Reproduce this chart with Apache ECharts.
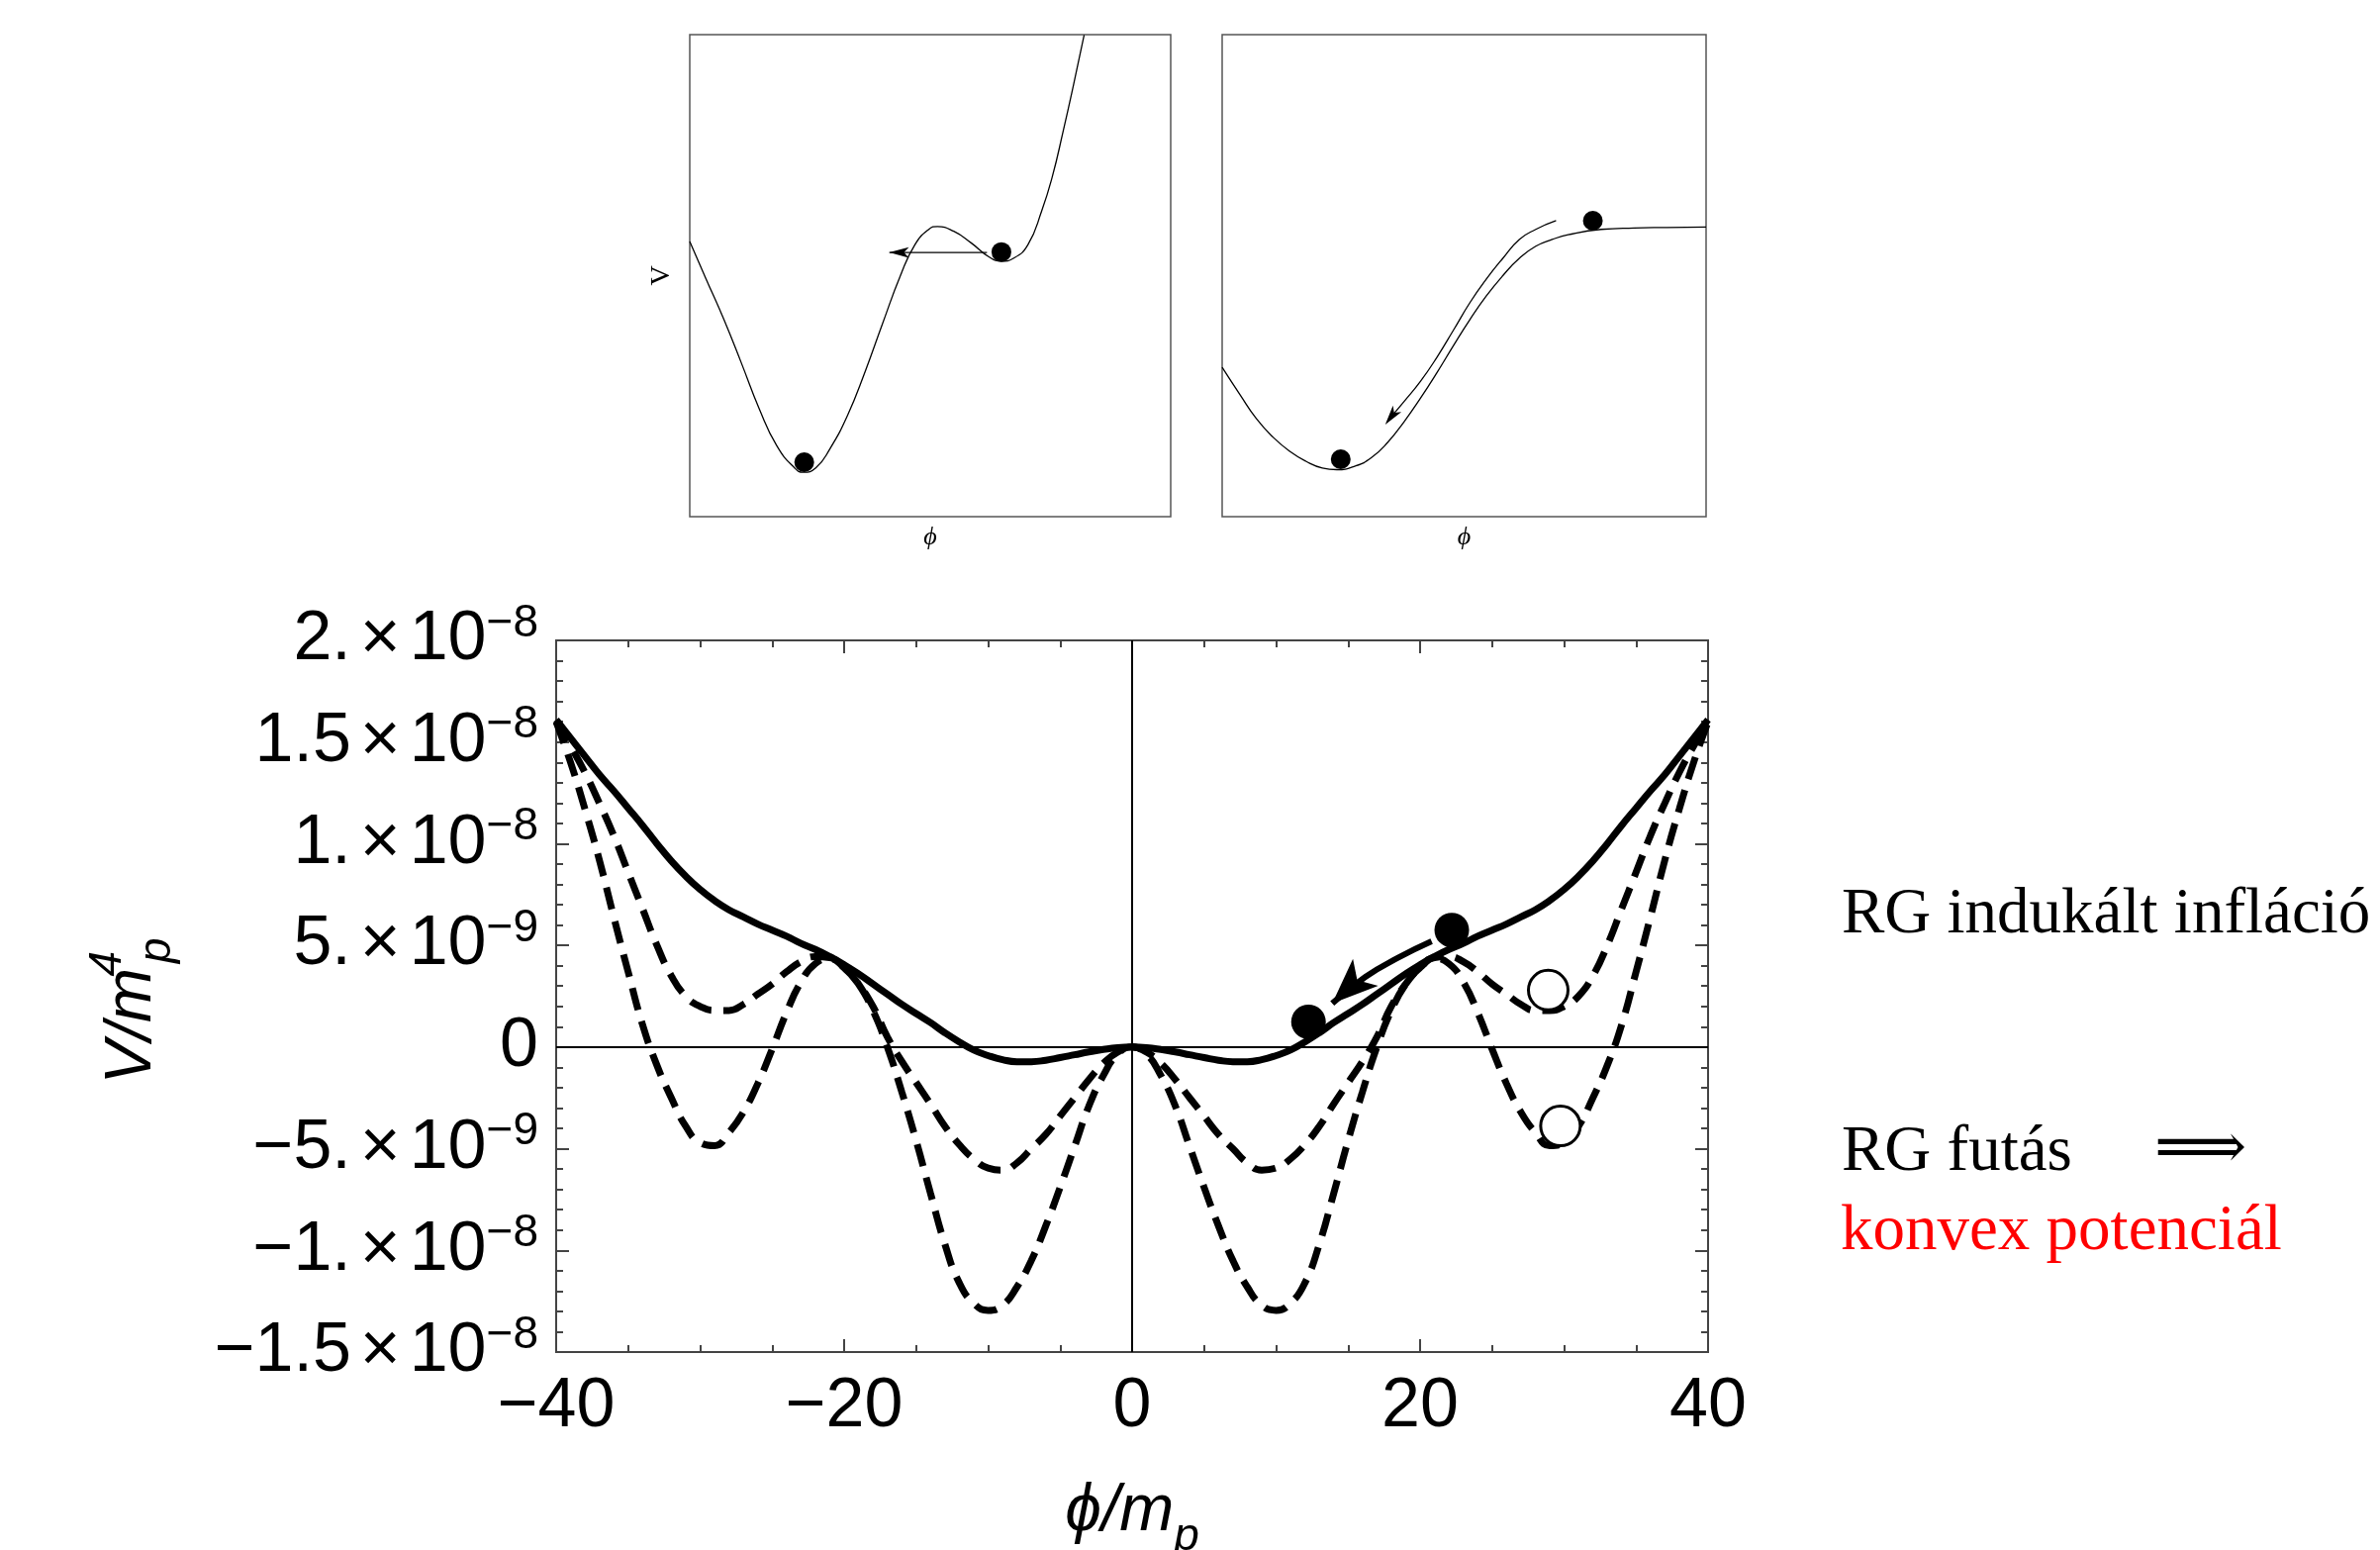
<!DOCTYPE html>
<html>
<head>
<meta charset="utf-8">
<script src="https://cdn.jsdelivr.net/npm/echarts@6.0.0/dist/echarts.min.js"></script>
<style>
html,body{margin:0;padding:0;background:#ffffff;}
#chart{width:2405px;height:1566px;}
</style>
</head>
<body>
<div id="chart"></div>
<script>
// ===== Main plot: V/m_p^4 (values in units of 1e-9) versus phi/m_p =====
const phi = [-40,-39,-38,-37,-36,-35,-34,-33,-32,-31,-30,-29,-28,-27,-26,-25,-24,-23,-22,-21,-20,
  -19,-18,-17,-16,-15,-14,-13,-12,-11,-10,-9,-8,-7,-6,-5,-4,-3,-2,-1,0,
  1,2,3,4,5,6,7,8,9,10,11,12,13,14,15,16,17,18,19,20,21,22,23,24,25,26,27,28,29,30,
  31,32,33,34,35,36,37,38,39,40];
const vSolid = [16.1,15.2,14.3,13.4,12.6,11.75,10.9,10.0,9.15,8.4,7.75,7.2,6.75,6.4,6.05,5.75,5.45,5.1,4.8,4.45,4.05,
  3.6,3.1,2.6,2.1,1.65,1.2,0.7,0.25,-0.15,-0.42,-0.62,-0.72,-0.72,-0.65,-0.52,-0.38,-0.24,-0.12,-0.03,0,
  -0.03,-0.12,-0.24,-0.38,-0.52,-0.65,-0.72,-0.72,-0.62,-0.42,-0.15,0.25,0.7,1.2,1.65,2.1,2.6,3.1,3.6,4.05,
  4.45,4.8,5.1,5.45,5.75,6.05,6.4,6.75,7.2,7.75,8.4,9.15,10.0,10.9,11.75,12.6,13.4,14.3,15.2,16.1];
const vDashShallow = [16.0,14.8,13.5,12.0,10.4,8.6,6.8,5.0,3.5,2.5,2.0,1.8,1.8,2.1,2.6,3.1,3.7,4.2,4.45,4.4,3.9,
  3.1,2.0,0.5,-0.7,-1.75,-2.8,-3.9,-4.8,-5.5,-5.95,-6.05,-5.7,-5.0,-4.3,-3.4,-2.5,-1.6,-0.8,-0.25,0,
  -0.25,-0.8,-1.6,-2.5,-3.4,-4.3,-5.0,-5.7,-6.05,-5.95,-5.5,-4.8,-3.9,-2.8,-1.75,-0.7,0.5,2.0,3.1,3.9,
  4.4,4.45,4.2,3.7,3.1,2.6,2.1,1.8,1.8,2.0,2.5,3.5,5.0,6.8,8.6,10.4,12.0,13.5,14.8,16.0];
const vDashDeep = [16.0,14.0,11.7,9.2,6.4,3.7,1.1,-0.9,-2.5,-3.9,-4.7,-4.85,-4.2,-3.2,-1.8,-0.1,1.7,3.2,4.1,4.35,3.9,
  3.1,1.8,0.0,-2.2,-4.6,-7.2,-9.7,-11.6,-12.6,-12.95,-12.7,-11.8,-10.5,-8.8,-6.9,-4.9,-2.9,-1.4,-0.35,0,
  -0.35,-1.4,-2.9,-4.9,-6.9,-8.8,-10.5,-11.8,-12.7,-12.95,-12.6,-11.6,-9.7,-7.2,-4.6,-2.2,0.0,1.8,3.1,3.9,
  4.35,4.1,3.2,1.7,-0.1,-1.8,-3.2,-4.2,-4.85,-4.7,-3.9,-2.5,-0.9,1.1,3.7,6.4,9.2,11.7,14.0,16.0];
const ballsFilled = [[22.2, 5.75], [12.25, 1.24]];
const ballsOpen = [[28.9, 2.8], [29.75, -3.88]];
const mainArrowLine = [[20.8, 5.2], [18.5, 4.4], [16.2, 3.45], [13.9, 2.15]];
const mainArrowHead = [[13.9, 2.15]];

const xTickLabels = ['\u221240', '\u221220', '0', '20', '40'];
const yTickMantissa = ['\u22121.5', '\u22121.', '\u22125.', '0', '5.', '1.', '1.5', '2.'];
const yTickExponent = ['\u22128', '\u22128', '\u22129', '', '\u22129', '\u22128', '\u22128', '\u22128'];

// ===== Inset 1 (first-order transition), arbitrary units 0..100 =====
const inset1X = [0,3.4,7.1,10.8,14.4,18.1,21.8,23.6,26.2,29.1,32.8,36.5,40.1,43.8,46.8,49.7,51.5,54.9,58.5,62.2,64.8,67.3,70.3,73.2,75.4,77.6,79.8,82.0];
const inset1Y = [57.1,49.3,40.9,31.7,22.5,14.7,10.1,9.2,10.1,14.0,21.0,30.2,40.1,50.0,56.4,59.6,60.2,59.2,56.8,53.9,53.0,53.6,56.4,63.5,70.6,79.8,89.6,99.9];
const inset1Balls = [[23.8, 11.3], [64.8, 54.9]];
const inset1ArrowLine = [[61.8, 54.8], [41.5, 54.8]];
const inset1ArrowHead = [[41.45, 54.8]];

// ===== Inset 2 (slow roll), arbitrary units 0..100 =====
const inset2X = [0,3.7,7.1,10.5,13.9,17.3,20.7,23.7,27.5,30.8,34.2,37.6,41.0,44.4,47.8,51.2,54.6,58.0,61.4,64.8,68.2,71.5,78.3,85.1,91.9,100];
const inset2Y = [31.0,25.3,20.3,16.5,13.6,11.5,10.1,9.75,10.5,12.2,15.4,19.7,24.6,29.9,35.5,40.9,45.8,50.0,53.6,56.1,57.5,58.5,59.6,59.9,60.0,60.1];
const inset2Balls = [[76.6, 61.4], [24.5, 11.9]];
const inset2ArrowX = [69.0,64.8,61.4,58.0,54.6,51.2,47.8,44.4,41.0,37.6,34.9];
const inset2ArrowY = [61.4,59.6,57.5,53.6,49.3,44.4,38.7,33.1,28.1,23.9,20.7];
const inset2ArrowHead = [[33.7, 19.1]];

// ===== Side notes =====
const noteTop = 'RG indukált infláció';
const noteMid = 'RG futás';
const noteArrow = '\u27F9';
const noteRed = 'konvex potenciál';

// ---------------------------------------------------------------
const sans = "'Liberation Sans', Arial, Helvetica, sans-serif";
const serif = "'Liberation Serif', 'Times New Roman', 'DejaVu Serif', serif";
const frameColor = '#444';
const zip = (xs, ys) => xs.map((x, i) => [x, ys[i]]);

const mainTick = { show: true, inside: true, length: 13, lineStyle: { color: frameColor, width: 2 } };
const xMinor = { show: true, splitNumber: 4, length: 7, lineStyle: { color: frameColor, width: 2 } };
const yMinor = { show: true, splitNumber: 5, length: 7, lineStyle: { color: frameColor, width: 2 } };

const xTitleRich = {
  i: { fontFamily: sans, fontStyle: 'italic', fontSize: 66, lineHeight: 96, color: '#000', verticalAlign: 'middle' },
  sub: { fontFamily: sans, fontStyle: 'italic', fontSize: 46, lineHeight: 46, color: '#000', verticalAlign: 'bottom' }
};
const yTitleRich = {
  i: { fontFamily: sans, fontStyle: 'italic', fontSize: 66, lineHeight: 96, color: '#000', verticalAlign: 'middle' },
  sup: { fontFamily: sans, fontStyle: 'italic', fontSize: 46, lineHeight: 46, width: 1, color: '#000', verticalAlign: 'top', align: 'left', padding: [0, 0, 0, 4] },
  sub: { fontFamily: sans, fontStyle: 'italic', fontSize: 46, lineHeight: 46, color: '#000', verticalAlign: 'bottom', padding: [0, 30, 0, 0] }
};

const hiddenAxis = {
  type: 'value', min: 0, max: 100,
  axisLine: { show: false, onZero: false }, axisTick: { show: false },
  axisLabel: { show: false }, splitLine: { show: false }
};

const option = {
  animation: false,
  backgroundColor: '#ffffff',
  grid: [
    { left: 562, top: 647, width: 1164, height: 719, show: true, borderColor: frameColor, borderWidth: 2, backgroundColor: 'transparent', outerBoundsMode: 'none', containLabel: false },
    { left: 697, top: 35, width: 486, height: 487, show: true, borderColor: '#555', borderWidth: 1.5, backgroundColor: 'transparent', outerBoundsMode: 'none', containLabel: false },
    { left: 1235, top: 35, width: 489, height: 487, show: true, borderColor: '#555', borderWidth: 1.5, backgroundColor: 'transparent', outerBoundsMode: 'none', containLabel: false }
  ],
  xAxis: [
    {
      gridIndex: 0, type: 'value', min: -40, max: 40, interval: 20, position: 'bottom',
      axisLine: { show: false, onZero: false }, axisTick: mainTick, minorTick: xMinor,
      splitLine: { show: false }, minorSplitLine: { show: false },
      axisLabel: { margin: 21, fontSize: 70, fontFamily: sans, color: '#000',
        formatter: v => xTickLabels[Math.round((v + 40) / 20)] },
      name: '{i|\u03D5/m}{sub|p}', nameLocation: 'middle', nameGap: 114,
      nameTextStyle: { rich: xTitleRich }
    },
    {
      gridIndex: 0, type: 'value', min: -40, max: 40, interval: 20, position: 'top',
      axisLine: { show: false, onZero: false }, axisTick: mainTick, minorTick: xMinor,
      splitLine: { show: false }, axisLabel: { show: false }
    },
    Object.assign({}, hiddenAxis, { gridIndex: 1, name: '\u03D5', nameLocation: 'middle', nameGap: 8,
      nameTextStyle: { fontFamily: serif, fontStyle: 'italic', fontSize: 26, color: '#000' } }),
    Object.assign({}, hiddenAxis, { gridIndex: 2, name: '\u03D5', nameLocation: 'middle', nameGap: 8,
      nameTextStyle: { fontFamily: serif, fontStyle: 'italic', fontSize: 26, color: '#000' } })
  ],
  yAxis: [
    {
      gridIndex: 0, type: 'value', min: -15, max: 20, interval: 5, position: 'left',
      axisLine: { show: false, onZero: false }, axisTick: mainTick, minorTick: yMinor,
      splitLine: { show: false }, minorSplitLine: { show: false },
      axisLabel: {
        margin: 18,
        formatter: v => {
          const k = Math.round((v + 15) / 5);
          const m = yTickMantissa[k], e = yTickExponent[k];
          return e ? '{m|' + m + '}{x|\u00D7}{m|10}{s|' + e + '}' : '{m|' + m + '}';
        },
        rich: {
          m: { fontFamily: sans, fontSize: 70, lineHeight: 80, color: '#000', verticalAlign: 'middle' },
          x: { fontFamily: sans, fontSize: 70, lineHeight: 80, color: '#000', verticalAlign: 'middle', padding: [0, 9, 0, 9] },
          s: { fontFamily: sans, fontSize: 46, lineHeight: 46, color: '#000', verticalAlign: 'top' }
        }
      },
      name: '{i|V/m}{sup|4}{sub|p}', nameLocation: 'middle', nameGap: 380, nameRotate: 90,
      nameTextStyle: { rich: yTitleRich }
    },
    {
      gridIndex: 0, type: 'value', min: -15, max: 20, interval: 5, position: 'right',
      axisLine: { show: false, onZero: false }, axisTick: mainTick, minorTick: yMinor,
      splitLine: { show: false }, axisLabel: { show: false }
    },
    Object.assign({}, hiddenAxis, { gridIndex: 1, name: 'V', nameLocation: 'middle', nameGap: 14, nameRotate: 90,
      nameTextStyle: { fontFamily: serif, fontSize: 28, color: '#000' } }),
    Object.assign({}, hiddenAxis, { gridIndex: 2 })
  ],
  series: [
    {
      name: 'deep', type: 'line', xAxisIndex: 0, yAxisIndex: 0, silent: true,
      data: zip(phi, vDashDeep), smooth: true, symbol: 'none',
      lineStyle: { color: '#000', width: 7, type: [23, 12] }, z: 3,
      markLine: {
        silent: true, symbol: ['none', 'none'], label: { show: false },
        lineStyle: { color: '#000', width: 2, type: 'solid' },
        data: [{ yAxis: 0 }, { xAxis: 0 }]
      }
    },
    {
      name: 'shallow', type: 'line', xAxisIndex: 0, yAxisIndex: 0, silent: true,
      data: zip(phi, vDashShallow), smooth: true, symbol: 'none',
      lineStyle: { color: '#000', width: 7, type: [23, 12] }, z: 3
    },
    {
      name: 'solid', type: 'line', xAxisIndex: 0, yAxisIndex: 0, silent: true,
      data: zip(phi, vSolid), smooth: true, symbol: 'none',
      lineStyle: { color: '#000', width: 7 }, z: 4
    },
    {
      name: 'mainArrow', type: 'line', xAxisIndex: 0, yAxisIndex: 0, silent: true,
      data: mainArrowLine, smooth: true, symbol: 'none',
      lineStyle: { color: '#000', width: 6 }, z: 5
    },
    {
      name: 'mainArrowHead', type: 'scatter', xAxisIndex: 0, yAxisIndex: 0, silent: true,
      data: mainArrowHead, symbol: 'arrow', symbolSize: [28, 46], symbolRotate: 133,
      itemStyle: { color: '#000', opacity: 1 }, z: 6
    },
    {
      name: 'ballsFilled', type: 'scatter', xAxisIndex: 0, yAxisIndex: 0, silent: true,
      data: ballsFilled, symbol: 'circle', symbolSize: 35, itemStyle: { color: '#000', opacity: 1 }, z: 7
    },
    {
      name: 'ballsOpen', type: 'scatter', xAxisIndex: 0, yAxisIndex: 0, silent: true,
      data: ballsOpen, symbol: 'circle', symbolSize: 40,
      itemStyle: { color: '#fff', borderColor: '#000', borderWidth: 3, opacity: 1 }, z: 7
    },
    // inset 1
    {
      type: 'line', xAxisIndex: 2, yAxisIndex: 2, silent: true, data: zip(inset1X, inset1Y),
      smooth: true, symbol: 'none', lineStyle: { color: '#000', width: 1.3 }
    },
    {
      type: 'line', xAxisIndex: 2, yAxisIndex: 2, silent: true, data: inset1ArrowLine,
      symbol: 'none', lineStyle: { color: '#000', width: 1.3 }
    },
    {
      type: 'scatter', xAxisIndex: 2, yAxisIndex: 2, silent: true, data: inset1ArrowHead,
      symbol: 'arrow', symbolSize: [8, 20], symbolRotate: 90, itemStyle: { color: '#000', opacity: 1 }
    },
    {
      type: 'scatter', xAxisIndex: 2, yAxisIndex: 2, silent: true, data: inset1Balls,
      symbol: 'circle', symbolSize: 20, itemStyle: { color: '#000', opacity: 1 }
    },
    // inset 2
    {
      type: 'line', xAxisIndex: 3, yAxisIndex: 3, silent: true, data: zip(inset2X, inset2Y),
      smooth: true, symbol: 'none', lineStyle: { color: '#000', width: 1.3 }
    },
    {
      type: 'line', xAxisIndex: 3, yAxisIndex: 3, silent: true, data: zip(inset2ArrowX, inset2ArrowY),
      smooth: true, symbol: 'none', lineStyle: { color: '#000', width: 1.3 }
    },
    {
      type: 'scatter', xAxisIndex: 3, yAxisIndex: 3, silent: true, data: inset2ArrowHead,
      symbol: 'arrow', symbolSize: [8, 20], symbolRotate: 143, itemStyle: { color: '#000', opacity: 1 }
    },
    {
      type: 'scatter', xAxisIndex: 3, yAxisIndex: 3, silent: true, data: inset2Balls,
      symbol: 'circle', symbolSize: 20, itemStyle: { color: '#000', opacity: 1 }
    }
  ],
  graphic: [
    { type: 'text', x: 1861, y: 925, style: { text: noteTop, fontFamily: serif, fontSize: 65, fill: '#000', align: 'left', verticalAlign: 'middle' } },
    { type: 'text', x: 1861, y: 1165, style: { text: noteMid, fontFamily: serif, fontSize: 65, fill: '#000', align: 'left', verticalAlign: 'middle' } },
    { type: 'text', x: 2177, y: 1163, style: { text: noteArrow, fontFamily: serif, fontSize: 65, fill: '#000', align: 'left', verticalAlign: 'middle' } },
    { type: 'text', x: 1860, y: 1245, style: { text: noteRed, fontFamily: serif, fontSize: 65, fill: '#ff0000', align: 'left', verticalAlign: 'middle' } }
  ]
};

const chart = echarts.init(document.getElementById('chart'), null, { renderer: 'canvas' });
chart.setOption(option);
</script>
</body>
</html>
